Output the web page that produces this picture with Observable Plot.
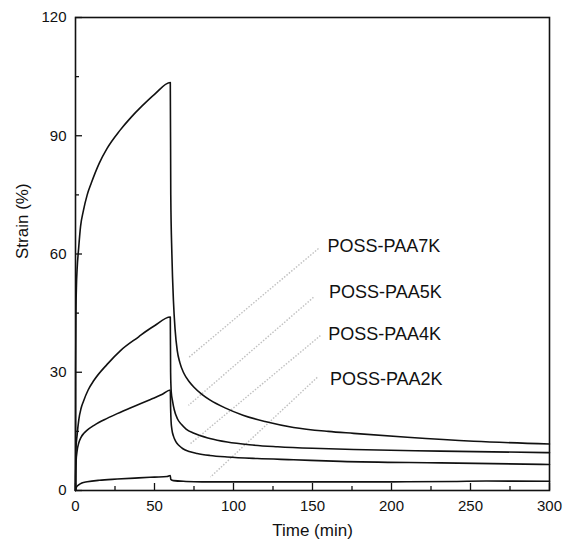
<!DOCTYPE html>
<html>
<head>
<meta charset="utf-8">
<script src="https://cdn.jsdelivr.net/npm/d3@7"></script>
<script src="https://cdn.jsdelivr.net/npm/@observablehq/plot@0.6"></script>
<style>
  html, body { margin: 0; padding: 0; background: #fff; }
  #chart svg { display: block; }
</style>
</head>
<body>
<div id="chart"></div>
<script>
// ---- Data ----
const seriesNames = ["POSS-PAA7K", "POSS-PAA5K", "POSS-PAA4K", "POSS-PAA2K"];

const time7K = [0, 0.1, 0.3, 0.6, 1, 2, 3.2, 5, 7.4, 10, 15, 20, 28, 35, 42, 50, 60,
  60.3, 61, 62, 63, 64.4, 66, 68.5, 72, 75, 80, 85, 95, 106, 120, 138, 160, 176, 210, 252, 300];
const strain7K = [0, 30, 45, 52, 56, 61.5, 67, 71, 75, 78, 83, 86.8, 91.3, 94.6, 97.5, 100.5, 103.5,
  75, 60, 48, 41, 35.5, 32.5, 29.8, 27.6, 26.2, 24.4, 23, 20.9, 19.1, 17.5, 16, 15, 14.5, 13.5, 12.5, 11.8];

const time5K = [0, 0.2, 1, 2.1, 3.5, 5, 8, 11.6, 20, 28.5, 40, 45.4, 50, 60,
  60.2, 60.6, 61.5, 62.5, 64.5, 67, 70, 75, 85, 96, 110, 128, 150, 176, 231, 300];
const strain5K = [0, 10, 14, 18, 20.8, 22.6, 25.5, 27.9, 32, 35.5, 39, 40.6, 41.8, 44,
  30, 25, 22.5, 20.5, 18.2, 16.8, 15.6, 14.5, 13.2, 12.3, 11.6, 11.1, 10.7, 10.4, 10, 9.6];

const time4K = [0, 0.1, 0.4, 1, 2, 3.5, 5.3, 7.4, 12, 20, 26.4, 35, 41, 47.5, 55, 60,
  60.2, 60.5, 61, 62, 63.5, 65.5, 68, 72, 77, 85, 96, 115, 138, 168, 231, 300];
const strain4K = [0, 4, 7.5, 10, 12, 13.5, 14.5, 15.3, 16.6, 18.3, 19.5, 21, 22, 23.1, 24.4, 25.5,
  21, 17.5, 15.5, 13.8, 12.4, 11.4, 10.6, 9.9, 9.4, 8.9, 8.5, 8.1, 7.8, 7.4, 7, 6.6];

const time2K = [0, 0.5, 2, 4, 7.4, 15, 26.4, 40, 50, 58, 60,
  60.3, 62, 70, 80, 120, 200, 240, 260, 300];
const strain2K = [0, 0.8, 1.4, 1.9, 2.2, 2.6, 2.9, 3.2, 3.4, 3.55, 3.8,
  2.8, 2.5, 2.3, 2.2, 2.2, 2.2, 2.3, 2.4, 2.35];

// label anchor positions (data units) and leader line endpoints
const labelTime = [159.5, 160.5, 160, 161];
const labelStrain = [61.9, 50.2, 39.6, 28.2];
const leaderStartTime = [153.8, 150.6, 155, 153];
const leaderStartStrain = [61.4, 49, 39.3, 28.7];
const leaderEndTime = [71.5, 71.5, 72.8, 85.4];
const leaderEndStrain = [33.7, 21.6, 11.9, 3.4];

const xTicksMajor = [0, 50, 100, 150, 200, 250, 300];
const xTicksMinor = [25, 75, 125, 175, 225, 275];
const yTicksMajor = [0, 30, 60, 90, 120];
const yTicksMinor = [15, 45, 75, 105];

const xLabel = "Time (min)";
const yLabel = "Strain (%)";

// ---- Build tables ----
const curveSets = [[time7K, strain7K], [time5K, strain5K], [time4K, strain4K], [time2K, strain2K]];
const curves = curveSets.flatMap(([ts, ss], i) =>
  ts.map((t, j) => ({series: seriesNames[i], t, s: ss[j]})));
const labels = seriesNames.map((name, i) => ({name, t: labelTime[i], s: labelStrain[i]}));
const leaders = seriesNames.map((name, i) => ({
  name, t1: leaderStartTime[i], s1: leaderStartStrain[i], t2: leaderEndTime[i], s2: leaderEndStrain[i]
}));

// ---- Layout ----
const W = 566, H = 541;
const mT = 17, mB = 51, mL = 75, mR = 17;
const plotW = W - mL - mR, plotH = H - mT - mB;
const font = "'Liberation Sans', Arial, Helvetica, sans-serif";

const chart = Plot.plot({
  width: W,
  height: H,
  marginTop: mT,
  marginBottom: mB,
  marginLeft: mL,
  marginRight: mR,
  style: {fontFamily: font, color: "#111", background: "white"},
  x: {domain: [0, 300], axis: null},
  y: {domain: [0, 120], axis: null},
  marks: [
    // leader lines
    Plot.link(leaders, {x1: "t1", y1: "s1", x2: "t2", y2: "s2",
      stroke: "#c0c0c0", strokeWidth: 1.4, strokeDasharray: "1.5,1.6"}),
    // curves
    Plot.line(curves, {x: "t", y: "s", z: "series", stroke: "#111", strokeWidth: 1.6, curve: "monotone-x"}),
    // series labels
    Plot.text(labels, {x: "t", y: "s", text: "name", textAnchor: "start", lineAnchor: "middle",
      fontSize: 18, fill: "#111"}),
    // inward ticks
    Plot.tickX(xTicksMajor, {x: d => d, insetTop: plotH - 7, stroke: "#111", strokeWidth: 1.3}),
    Plot.tickX(xTicksMinor, {x: d => d, insetTop: plotH - 4, stroke: "#111", strokeWidth: 1.3}),
    Plot.tickY(yTicksMajor, {y: d => d, insetRight: plotW - 7, stroke: "#111", strokeWidth: 1.3}),
    Plot.tickY(yTicksMinor, {y: d => d, insetRight: plotW - 4, stroke: "#111", strokeWidth: 1.3}),
    // tick labels
    Plot.axisX({ticks: xTicksMajor, tickSize: 0, tickPadding: 10, fontSize: 15, label: null, tickFormat: d => String(d)}),
    Plot.axisY({ticks: yTicksMajor, tickSize: 0, tickPadding: 9, fontSize: 15, label: null, tickFormat: d => String(d)}),
    // axis titles
    Plot.text([xLabel], {frameAnchor: "bottom", dy: 40, text: d => d, fontSize: 17, lineAnchor: "middle", fill: "#111"}),
    Plot.text([yLabel], {frameAnchor: "left", dx: -53, dy: 5, rotate: -90, text: d => d, fontSize: 17, lineAnchor: "middle", fill: "#111"}),
    // frame
    Plot.frame({stroke: "#111", strokeWidth: 1.6})
  ]
});

document.getElementById("chart").appendChild(chart);
</script>
</body>
</html>
